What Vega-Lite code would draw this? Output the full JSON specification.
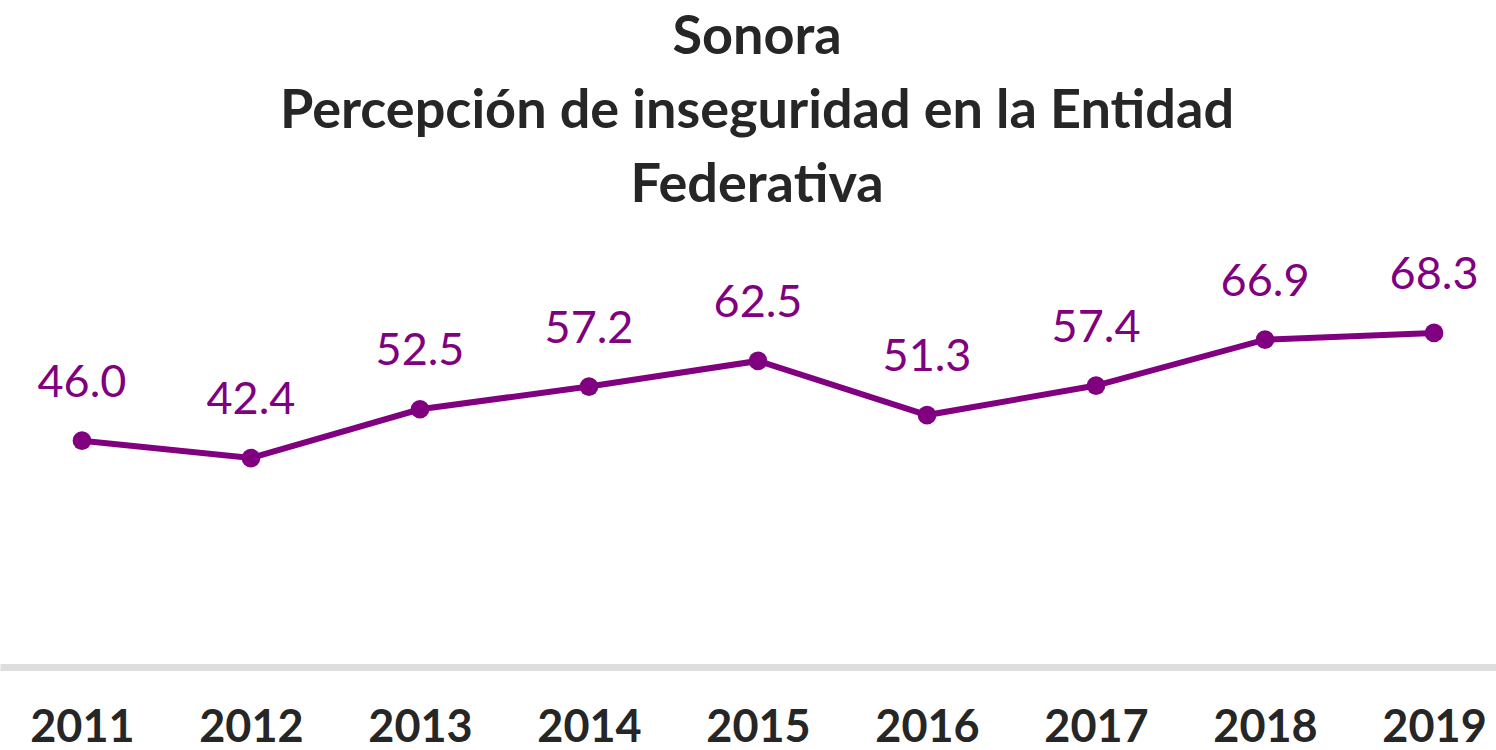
{
  "$schema": "https://vega.github.io/schema/vega-lite/v6.json",
  "autosize": {"type": "none"},
  "padding": {"top": 228, "left": 0, "right": 0, "bottom": 87},
  "width": 1516,
  "height": 435,
  "background": "white",
  "title": {
    "text": ["Sonora", "Percepción de inseguridad  en la Entidad", "Federativa"],
    "font": "Lato",
    "fontSize": 54,
    "fontWeight": "bold",
    "color": "#262626",
    "lineHeight": 74,
    "anchor": "start",
    "frame": "group",
    "dx": 757,
    "align": "center",
    "offset": 15
  },
  "data": {
    "values": [
      {"year": "2011", "value": 46.0},
      {"year": "2012", "value": 42.4},
      {"year": "2013", "value": 52.5},
      {"year": "2014", "value": 57.2},
      {"year": "2015", "value": 62.5},
      {"year": "2016", "value": 51.3},
      {"year": "2017", "value": 57.4},
      {"year": "2018", "value": 66.9},
      {"year": "2019", "value": 68.3}
    ]
  },
  "encoding": {
    "x": {
      "field": "year",
      "type": "ordinal",
      "scale": {"type": "point", "padding": 0.485},
      "axis": {
        "title": null,
        "labelAngle": 0,
        "labelFont": "Lato",
        "labelFontSize": 45,
        "labelFontWeight": "bold",
        "labelColor": "#262626",
        "labelPadding": 38,
        "ticks": false,
        "domainColor": "#dedede",
        "domainWidth": 7,
        "offset": 4,
        "grid": false
      }
    },
    "y": {
      "field": "value",
      "type": "quantitative",
      "scale": {"domain": [0, 90]},
      "axis": null
    }
  },
  "layer": [
    {"mark": {"type": "line", "color": "#800080", "strokeWidth": 6}},
    {"mark": {"type": "point", "filled": true, "color": "#800080", "size": 350, "opacity": 1}},
    {
      "mark": {"type": "text", "color": "#800080", "font": "Lato", "fontSize": 45, "baseline": "bottom", "dy": -35},
      "encoding": {"text": {"field": "value", "type": "quantitative", "format": ".1f"}}
    }
  ],
  "config": {"view": {"stroke": null}}
}
